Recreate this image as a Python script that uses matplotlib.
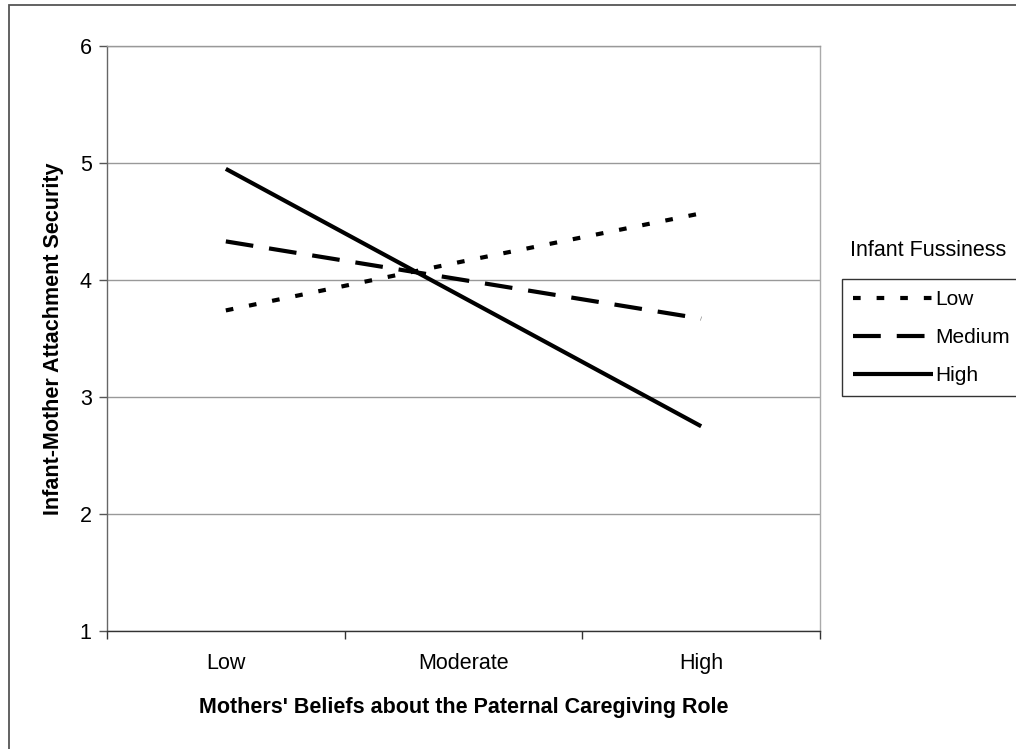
import matplotlib
matplotlib.use("Agg")
import matplotlib.pyplot as plt
from matplotlib.patches import Rectangle
import numpy as np

# data
beliefs = ["Low", "Moderate", "High"]
fussiness = ["Low", "Medium", "High"]
security_low = [3.74, 4.16, 4.57]
security_medium = [4.33, 4.00, 3.67]
security_high = [4.95, 3.85, 2.75]
y_ticks = [1, 2, 3, 4, 5, 6]

plt.rcParams['font.family'] = ['Liberation Sans', 'DejaVu Sans']
plt.rcParams['lines.scale_dashes'] = False

fig = plt.figure(figsize=(10.16, 7.49), dpi=100)
ax = fig.add_axes([107/1016, 1 - 631/749, (820 - 107)/1016, (631 - 46)/749])

x = np.arange(len(beliefs))
lw = 3.0
ax.plot(x, security_low, color='black', lw=lw, dashes=(5.5, 11.5), label=fussiness[0], dash_capstyle='butt')
ax.plot(x, security_medium, color='black', lw=lw, dashes=(20, 11.5), label=fussiness[1], dash_capstyle='butt')
ax.plot(x, security_high, color='black', lw=lw, label=fussiness[2], solid_capstyle='butt')

ax.set_xlim(-0.5, 2.5)
ax.set_ylim(1, 6)
ax.set_yticks(y_ticks)
ax.set_yticklabels([str(v) for v in y_ticks], fontsize=15.5)
ax.yaxis.grid(True, color='#999999', lw=1)
ax.set_axisbelow(True)

# category labels at centres, tick marks at band boundaries
ax.set_xticks(x)
ax.set_xticklabels(beliefs, fontsize=15.5)
ax.tick_params(axis='x', which='major', length=0, pad=15.5)
ax.set_xticks(np.arange(-0.5, 3.0, 1.0), minor=True)
ax.tick_params(axis='x', which='minor', length=6, width=1, color='#333333')
ax.tick_params(axis='y', length=6, width=1, color='#555555', pad=5)

ax.spines['left'].set_color('#666666')
ax.spines['bottom'].set_color('#333333')
ax.spines['top'].set_color('#999999')
ax.spines['right'].set_color('#aaaaaa')
for s in ax.spines.values():
    s.set_linewidth(1)

ax.set_xlabel("Mothers' Beliefs about the Paternal Caregiving Role", fontsize=15.5, fontweight='bold', labelpad=17)
ax.set_ylabel("Infant-Mother Attachment Security", fontsize=15.5, fontweight='bold', labelpad=11)

# legend with title sitting above the box
fig.text(928/1016, 1 - 250/749, "Infant Fussiness", ha='center', va='center', fontsize=15.5)
leg = fig.legend(loc='upper left', bbox_to_anchor=(842/1016, 1 - 279/749), fontsize=15,
                 frameon=True, fancybox=False, handlelength=3.8, handletextpad=0.12,
                 borderpad=0.55, borderaxespad=0, labelspacing=0.9)
leg.get_frame().set_edgecolor('black')
leg.get_frame().set_linewidth(1)

# outer frame (only left and top are visible in the crop)
fig.patches.append(Rectangle((9/1016, -0.1), 1.2, 1.1 - 5/749, transform=fig.transFigure,
                             fill=False, edgecolor='#555555', lw=1.3, clip_on=False))

fig.savefig("out.png", dpi=100)
